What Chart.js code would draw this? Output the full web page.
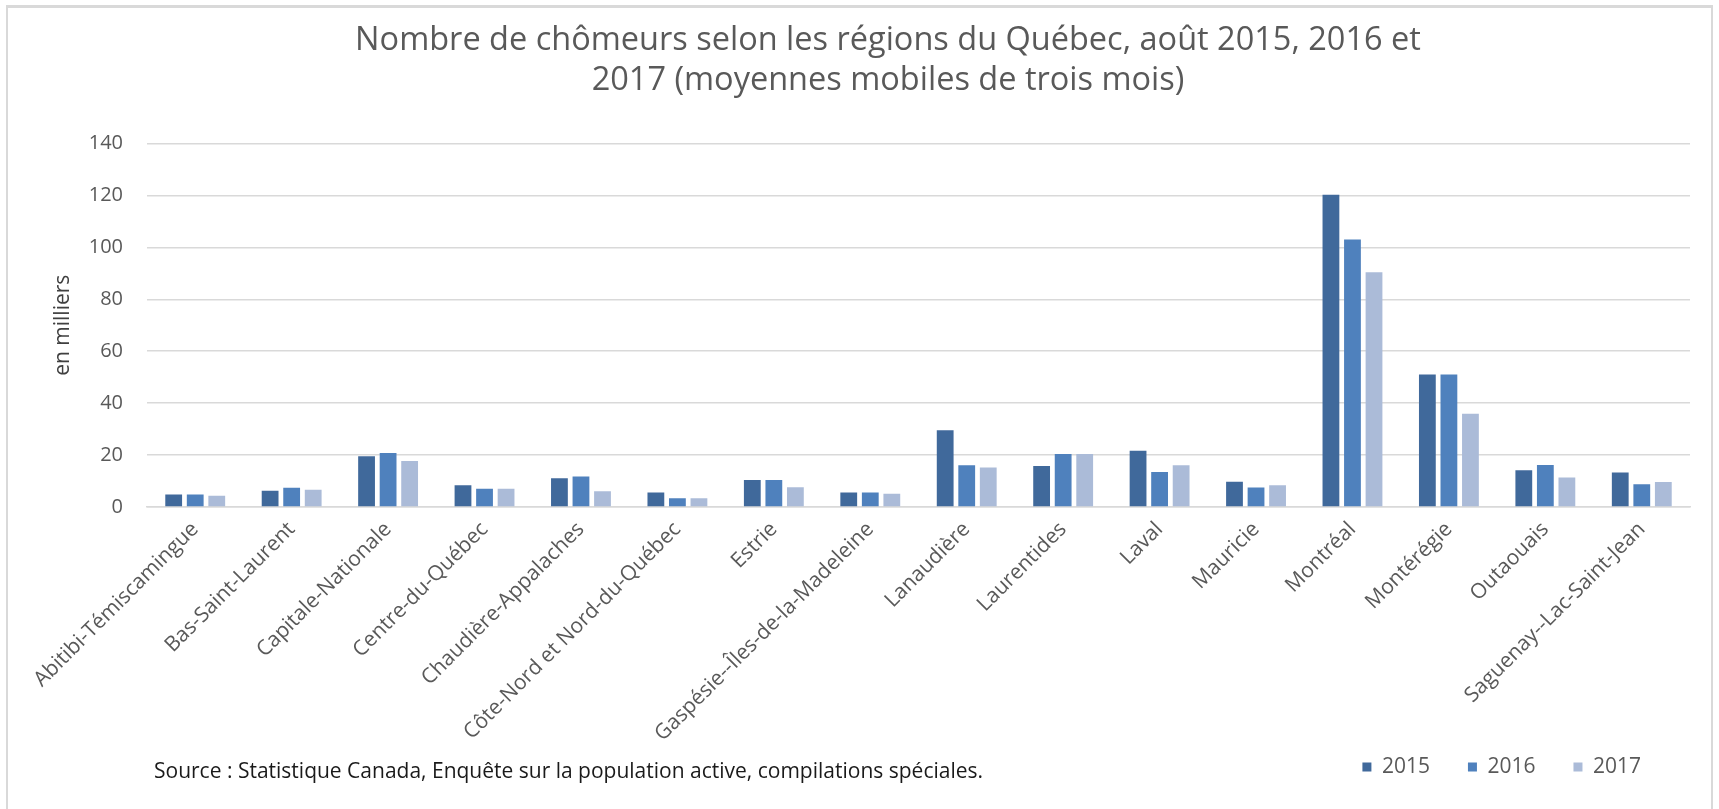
<!DOCTYPE html>
<html lang="fr">
<head>
<meta charset="utf-8">
<title>Nombre de chômeurs selon les régions du Québec</title>
<script src="https://cdn.jsdelivr.net/npm/chart.js@4.4.1/dist/chart.umd.min.js"></script>
<style>
  html, body { margin: 0; padding: 0; background: #fff; }
  #cadre {
    position: absolute; left: 6px; top: 5px; width: 1703px; height: 820px;
    border-top: 3px solid #d9d9d9; border-left: 2px solid #d9d9d9; border-right: 2px solid #d9d9d9;
    pointer-events: none;
  }
  #zone { position: absolute; left: 0; top: 0; width: 1719px; height: 809px; }
  #source {
    position: absolute; left: 154px; top: 756px;
    font-family: "Open Sans", sans-serif; font-size: 21px; line-height: 28px; color: #1a1a1a;
  }
</style>
</head>
<body>
<div id="zone"><canvas id="barChart"></canvas></div>
<div id="cadre"></div>
<div id="source">Source : Statistique Canada, Enquête sur la population active, compilations spéciales.</div>
<script>
// Régions (ordre alphabétique comme dans le graphique d'origine)
const regions = [
  'Abitibi-Témiscamingue', 'Bas-Saint-Laurent', 'Capitale-Nationale', 'Centre-du-Québec',
  'Chaudière-Appalaches', 'Côte-Nord et Nord-du-Québec', 'Estrie', 'Gaspésie--Îles-de-la-Madeleine',
  'Lanaudière', 'Laurentides', 'Laval', 'Mauricie', 'Montréal', 'Montérégie', 'Outaouais',
  'Saguenay--Lac-Saint-Jean'
];

// Chômeurs en milliers, août de chaque année
const chomeurs2015 = [4.8, 6.3, 19.5, 8.4, 11.1, 5.6, 10.4, 5.6, 29.6, 15.8, 21.7, 9.7, 120.2, 51.0, 14.2, 13.3];
const chomeurs2016 = [4.8, 7.4, 20.8, 7.0, 11.7, 3.4, 10.4, 5.6, 16.1, 20.4, 13.5, 7.5, 103.0, 51.0, 16.2, 8.8];
const chomeurs2017 = [4.3, 6.6, 17.7, 7.0, 6.1, 3.4, 7.6, 5.1, 15.2, 20.4, 16.1, 8.4, 90.4, 35.9, 11.4, 9.6];

const yTicks = [0, 20, 40, 60, 80, 100, 120, 140];

const gris = '#595959';
const police = '"Open Sans", sans-serif';

// Petits décalages pour retrouver la mise en page Excel (titre et légende)
const ajustements = {
  id: 'ajustements',
  afterLayout(chart) {
    const t = chart.titleBlock;
    if (t) { t.left += 33; t.right += 33; }
    const l = chart.legend;
    if (l) {
      l.top -= 20.5; l.bottom -= 20.5;
      l.left -= 11; l.right -= 11;
    }
  }
};

const data = {
  labels: regions,
  datasets: [
    { label: '2015', data: chomeurs2015, backgroundColor: '#40699b' },
    { label: '2016', data: chomeurs2016, backgroundColor: '#4f81bd' },
    { label: '2017', data: chomeurs2017, backgroundColor: '#abbbd8' }
  ]
};

const config = {
  type: 'bar',
  data: data,
  plugins: [ajustements],
  options: {
    responsive: true,
    maintainAspectRatio: false,
    animation: false,
    layout: { padding: { top: 10, left: 20, right: 29, bottom: 1 } },
    datasets: { bar: { categoryPercentage: 0.67, barPercentage: 0.78, borderWidth: 0 } },
    plugins: {
      title: {
        display: true,
        text: ['Nombre de chômeurs selon les régions du Québec, août 2015, 2016 et',
               '2017 (moyennes mobiles de trois mois)'],
        color: gris,
        font: { family: police, size: 32.5, weight: 'normal', lineHeight: 1.23 },
        padding: { top: 11, bottom: 42.5 }
      },
      legend: {
        position: 'bottom',
        align: 'end',
        labels: {
          color: gris,
          font: { family: police, size: 21 },
          boxWidth: 9,
          boxHeight: 9,
          padding: 38
        }
      },
      tooltip: { enabled: false }
    },
    scales: {
      x: {
        grid: { display: false, drawTicks: false },
        border: { color: '#d9d9d9', width: 1.5 },
        ticks: {
          color: gris,
          font: { family: police, size: 21 },
          minRotation: 45,
          maxRotation: 45,
          autoSkip: false,
          padding: 10
        },
        afterFit(axis) { axis.height = 232; }
      },
      y: {
        min: 0,
        max: 140,
        afterBuildTicks(axis) { axis.ticks = yTicks.map(v => ({ value: v })); },
        grid: { color: '#d9d9d9', lineWidth: 1.5, drawTicks: false },
        border: { display: false },
        ticks: {
          color: gris,
          font: { family: police, size: 20 },
          padding: 24
        },
        title: {
          display: true,
          text: 'en milliers',
          color: '#404040',
          font: { family: police, size: 21 },
          padding: { top: 30, bottom: 0 }
        },
        afterFit(axis) { axis.width = 127; }
      }
    }
  }
};

const ctx = document.getElementById('barChart').getContext('2d');
const myChart = new Chart(ctx, config);
</script>
</body>
</html>
